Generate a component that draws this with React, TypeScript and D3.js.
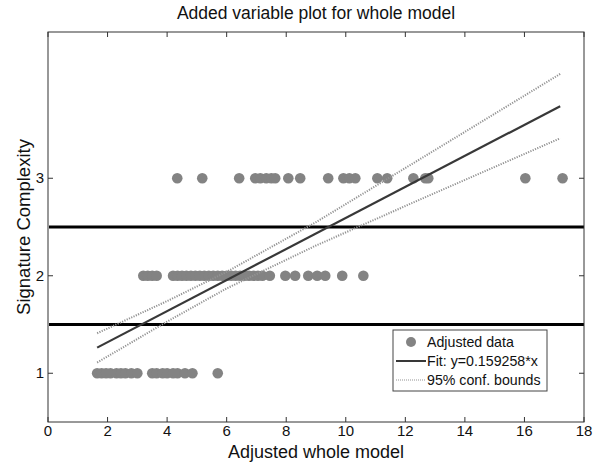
import React from "react";
import * as d3 from "d3";

// adjusted data, grouped by signature complexity level
const xLevel1 = [1.65, 1.8, 1.95, 2.1, 2.3, 2.45, 2.6, 2.8, 3.0, 3.5, 3.65, 3.85, 4.0, 4.2, 4.35, 4.6, 4.85, 5.7];
const xLevel2 = [
  3.2, 3.35, 3.5, 3.65, 4.2, 4.35, 4.5, 4.65, 4.8, 4.95, 5.1, 5.25, 5.4, 5.55, 5.7, 5.85, 6.0, 6.15,
  6.3, 6.45, 6.6, 6.75, 6.9, 7.05, 7.2, 7.45, 7.97, 8.3, 8.74, 9.04, 9.31, 9.88, 10.59,
];
const xLevel3 = [
  4.34, 5.18, 6.42, 6.96, 7.13, 7.33, 7.5, 7.63, 8.07, 8.47, 9.41, 9.92, 10.12, 10.32, 11.06, 11.39,
  12.27, 12.67, 12.77, 16.03, 17.28,
];

// fit line y = 0.159258*x (plus centred level) and 95% bounds
const fitX = [1.65, 17.2];
const fitY = [1.263, 3.739];
const boundX = [1.65, 4, 6, 9, 13, 17.2];
const boundUpper = [1.41, 1.74, 2.04, 2.55, 3.29, 4.07];
const boundLower = [1.11, 1.53, 1.87, 2.31, 2.85, 3.41];

// thresholds between levels
const thresholds = [1.5, 2.5];

const xTicks = [0, 2, 4, 6, 8, 10, 12, 14, 16, 18];
const yTicks = [1, 2, 3];

const legendLabels = ["Adjusted data", "Fit: y=0.159258*x", "95% conf. bounds"];

const W = 600;
const H = 462;
const m = { left: 48, right: 16, top: 32, bottom: 40 };

export default function App() {
  const x = d3.scaleLinear().domain([0, 18]).range([m.left, W - m.right]);
  const y = d3.scaleLinear().domain([0.5, 4.5]).range([H - m.bottom, m.top]);

  const points = [
    ...xLevel1.map((v) => [v, 1]),
    ...xLevel2.map((v) => [v, 2]),
    ...xLevel3.map((v) => [v, 3]),
  ];

  const line = d3
    .line<number[]>()
    .x((d) => x(d[0]))
    .y((d) => y(d[1]));

  const fitPts = fitX.map((v, i) => [v, fitY[i]]);
  const upPts = boundX.map((v, i) => [v, boundUpper[i]]);
  const loPts = boundX.map((v, i) => [v, boundLower[i]]);

  const font = "Arial, 'Liberation Sans', sans-serif";
  const axisColor = "#333";
  const x0 = x.range()[0];
  const x1 = x.range()[1];
  const yb = y.range()[0];
  const yt = y.range()[1];

  const lgX = 393;
  const lgY = 330;

  return (
    <svg
      width={W}
      height={H}
      style={{ position: "absolute", left: 0, top: 0, background: "#fff" }}
      fontFamily={font}
    >
      {/* scatter */}
      {points.map((p, i) => (
        <circle key={i} cx={x(p[0])} cy={y(p[1])} r={5.3} fill="#838383" />
      ))}

      {/* thresholds */}
      {thresholds.map((t) => (
        <line key={t} x1={x0 + 1} x2={x1} y1={y(t)} y2={y(t)} stroke="#000" strokeWidth={3} />
      ))}

      {/* bounds + fit */}
      <path d={line(upPts) || ""} fill="none" stroke="#939393" strokeWidth={2} strokeDasharray="1.2,1.3" />
      <path d={line(loPts) || ""} fill="none" stroke="#939393" strokeWidth={2} strokeDasharray="1.2,1.3" />
      <path d={line(fitPts) || ""} fill="none" stroke="#383838" strokeWidth={2.2} />

      {/* box */}
      <rect x={x0} y={yt} width={x1 - x0} height={yb - yt} fill="none" stroke={axisColor} strokeWidth={1} />

      {/* x ticks */}
      {xTicks.map((t) => (
        <g key={t}>
          <line x1={x(t)} x2={x(t)} y1={yb} y2={yb - 5} stroke={axisColor} />
          <line x1={x(t)} x2={x(t)} y1={yt} y2={yt + 5} stroke={axisColor} />
          <text x={x(t)} y={yb + 14} textAnchor="middle" fontSize={15} fill="#111">
            {t}
          </text>
        </g>
      ))}

      {/* y ticks */}
      {yTicks.map((t) => (
        <g key={t}>
          <line x1={x0} x2={x0 + 5} y1={y(t)} y2={y(t)} stroke={axisColor} />
          <line x1={x1} x2={x1 - 5} y1={y(t)} y2={y(t)} stroke={axisColor} />
          <text x={x0 - 4} y={y(t) + 5} textAnchor="end" fontSize={15} fill="#111">
            {t}
          </text>
        </g>
      ))}

      {/* titles */}
      <text x={(x0 + x1) / 2} y={19} textAnchor="middle" fontSize={17.5} fill="#111">
        Added variable plot for whole model
      </text>
      <text x={(x0 + x1) / 2} y={H - 4} textAnchor="middle" fontSize={18} fill="#111">
        Adjusted whole model
      </text>
      <text
        transform={`translate(30,${(yt + yb) / 2}) rotate(-90)`}
        textAnchor="middle"
        fontSize={18.5}
        fill="#111"
      >
        Signature Complexity
      </text>

      {/* legend */}
      <g transform={`translate(${lgX},${lgY})`}>
        <rect x={0} y={0} width={154} height={61} fill="#fff" stroke="#444" />
        <circle cx={18} cy={12} r={5} fill="#838383" />
        <line x1={3} x2={33} y1={31} y2={31} stroke="#383838" strokeWidth={2} />
        <line x1={3} x2={33} y1={50} y2={50} stroke="#939393" strokeWidth={1.2} strokeDasharray="1,1" />
        {legendLabels.map((l, i) => (
          <text key={l} x={34} y={17 + i * 19} fontSize={14.2} fill="#111">
            {l}
          </text>
        ))}
      </g>
    </svg>
  );
}
